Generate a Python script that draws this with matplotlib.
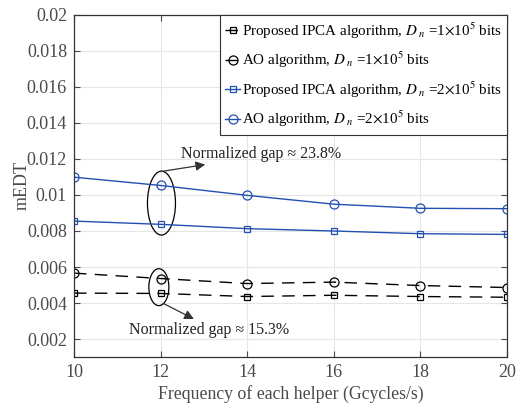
import matplotlib
matplotlib.use("Agg")
import matplotlib.pyplot as plt
from matplotlib.patches import Ellipse

# Helper CPU frequency (Gcycles/s)
freq = [10, 12, 14, 16, 18, 20]

# mEDT for D_n = 1e5 bits
ipca_1e5 = [0.00455, 0.00453, 0.00436, 0.00443, 0.00436, 0.00432]
ao_1e5 = [0.00566, 0.00536, 0.00508, 0.00516, 0.00497, 0.00486]

# mEDT for D_n = 2e5 bits
ipca_2e5 = [0.00855, 0.00837, 0.00813, 0.00800, 0.00785, 0.00781]
ao_2e5 = [0.01099, 0.01053, 0.00998, 0.00949, 0.00926, 0.00924]

yticks = [0.002, 0.004, 0.006, 0.008, 0.01, 0.012, 0.014, 0.016, 0.018, 0.02]
ytick_labels = ["0.002", "0.004", "0.006", "0.008", "0.01", "0.012",
                "0.014", "0.016", "0.018", "0.02"]

plt.rcParams["font.family"] = ["Liberation Serif", "DejaVu Serif"]
plt.rcParams["mathtext.fontset"] = "stix"

txt = "#4a4a4a"
blue = "#2350b0"
dash = (0, (9, 6))

fig = plt.figure(figsize=(5.2, 4.05), dpi=100)
ax = fig.add_axes([0.1423, 0.1185, 0.8327, 0.8445])

ax.plot(freq, ipca_1e5, ls=dash, color="black", lw=1.0, marker="s",
        ms=5, mfc="none", mew=0.9,
        label=r"Proposed IPCA algorithm, $D_{\ n}$ =1$\times$10$^5$ bits")
ax.plot(freq, ao_1e5, ls=dash, color="black", lw=1.0, marker="o",
        ms=6.5, mfc="none", mew=0.9,
        label=r"AO algorithm, $D_{\ n}$ =1$\times$10$^5$ bits")
ax.plot(freq, ipca_2e5, ls="-", color=blue, lw=1.0, marker="s",
        ms=5, mfc="none", mew=0.9,
        label=r"Proposed IPCA algorithm, $D_{\ n}$ =2$\times$10$^5$ bits")
ax.plot(freq, ao_2e5, ls="-", color=blue, lw=1.0, marker="o",
        ms=6.5, mfc="none", mew=0.9,
        label=r"AO algorithm, $D_{\ n}$ =2$\times$10$^5$ bits")

ax.set_xlim(10, 20)
ax.set_ylim(0.001, 0.02)
ax.set_xticks(freq)
ax.set_yticks(yticks)
ax.set_yticklabels(ytick_labels)

ax.grid(True, color="#e6e6e6", lw=0.8)
ax.set_axisbelow(True)
ax.tick_params(direction="in", top=True, right=True, colors=txt,
               labelsize=13, length=4, width=0.8, pad=5)
for s in ax.spines.values():
    s.set_color("#333333")
    s.set_linewidth(0.9)

ax.set_xlabel("Frequency of each helper (Gcycles/s)", fontsize=12.8, color=txt,
              labelpad=3)
ax.set_ylabel("mEDT", fontsize=13, color=txt, labelpad=-3)

leg = ax.legend(loc="upper right", bbox_to_anchor=(1.0, 1.0), fontsize=10.8,
                frameon=True, fancybox=False, edgecolor="#333333", framealpha=1,
                handlelength=1.0, handletextpad=0.1, borderpad=0.35,
                borderaxespad=0.0, labelspacing=0.62)
leg.get_frame().set_linewidth(0.8)

# Gap markers around the x = 12 points
ax.add_patch(Ellipse((12.02, 0.00955), 0.647, 0.00355, fill=False,
                     ec="black", lw=0.9))
ax.add_patch(Ellipse((11.96, 0.00488), 0.462, 0.00205, fill=False,
                     ec="black", lw=0.9))

ax.annotate("", xy=(13.03, 0.01169), xytext=(12.0, 0.0113),
            arrowprops=dict(arrowstyle="-|>", color="#333333", lw=0.9,
                            mutation_scale=14, shrinkA=0, shrinkB=0))
ax.annotate("", xy=(12.77, 0.00311), xytext=(12.06, 0.00398),
            arrowprops=dict(arrowstyle="-|>", color="#333333", lw=0.9,
                            mutation_scale=14, shrinkA=0, shrinkB=0))

ax.text(12.46, 0.01225, "Normalized gap \u2248 23.8%", fontsize=11.5,
        color="#222222", va="center", ha="left")
ax.text(11.27, 0.0025, "Normalized gap \u2248 15.3%", fontsize=11.5,
        color="#222222", va="center", ha="left")

fig.savefig("out.png", dpi=100)
